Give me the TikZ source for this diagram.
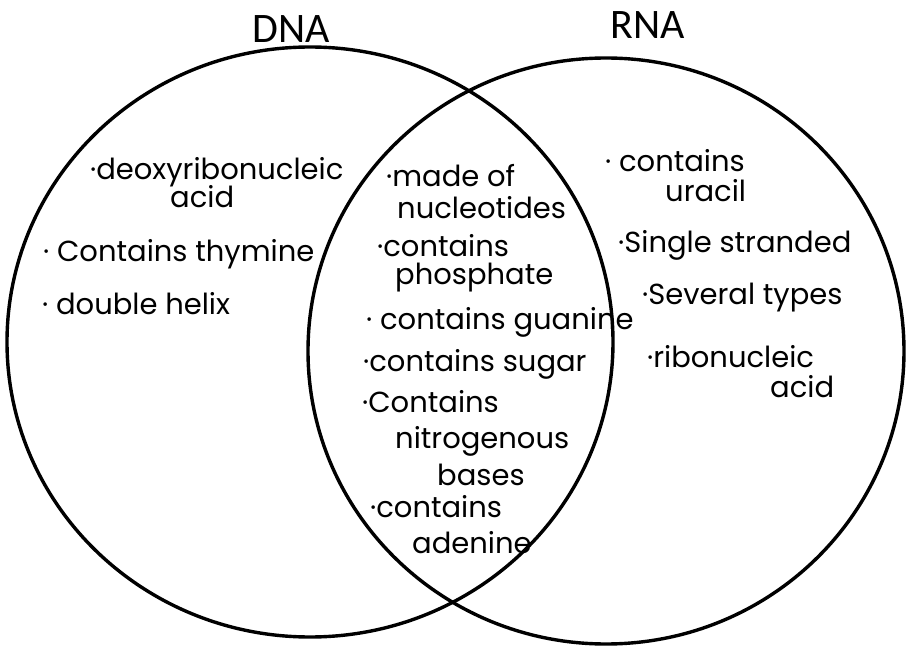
\documentclass[tikz,border=0pt]{standalone}
\usepackage{fontspec}
\setmainfont{Carlito}
\newfontfamily\handfont{Poppins}
\usepackage{xcolor}
\usetikzlibrary{positioning}
\tikzset{
  ring/.style={line width=3.4pt},
  settitle/.style={font=\fontsize{42}{42}\selectfont, anchor=base west, inner sep=0pt},
  note/.style={font=\handfont\fontsize{29}{29}\selectfont, anchor=base west, inner sep=0pt},
}

\begin{document}
\begin{tikzpicture}[x=1pt,y=-1pt]
\useasboundingbox (0,0) rectangle (906,647);
% the two sets
\draw[ring] (310,342) ellipse [x radius=303, y radius=295];
\draw[ring] (606,351) ellipse [x radius=298, y radius=293];
\node[settitle] (dna) at (252,43) {DNA};
\node[settitle] (rna) at (610,39) {RNA};
% DNA only
\foreach \i/\x/\y/\txt in {1/90/180/·deoxyribonucleic, 2/170/208/acid, 3/43/262/· Contains thymine, 4/42/315/· double helix} {
  \node[note] (d\i) at (\x,\y) {\txt};
}
% shared
\foreach \i/\x/\y/\txt in {1/386/187/·made of, 2/397/219/nucleotides, 3/377/257/·contains, 4/395/285/phosphate, 5/366/330/· contains guanine, 6/363/372/·contains sugar, 7/362/412/·Contains, 8/395/448/nitrogenous, 9/437/485/bases, 10/370/517/·contains, 11/412/553/adenine} {
  \node[note] (b\i) at (\x,\y) {\txt};
}
% RNA only
\foreach \i/\x/\y/\txt in {1/605/172/· contains, 2/665/202/uracil, 3/618/253/·Single stranded, 4/642/305/·Several types, 5/647/367/·ribonucleic, 6/770/397/acid} {
  \node[note] (r\i) at (\x,\y) {\txt};
}
\end{tikzpicture}
\end{document}
